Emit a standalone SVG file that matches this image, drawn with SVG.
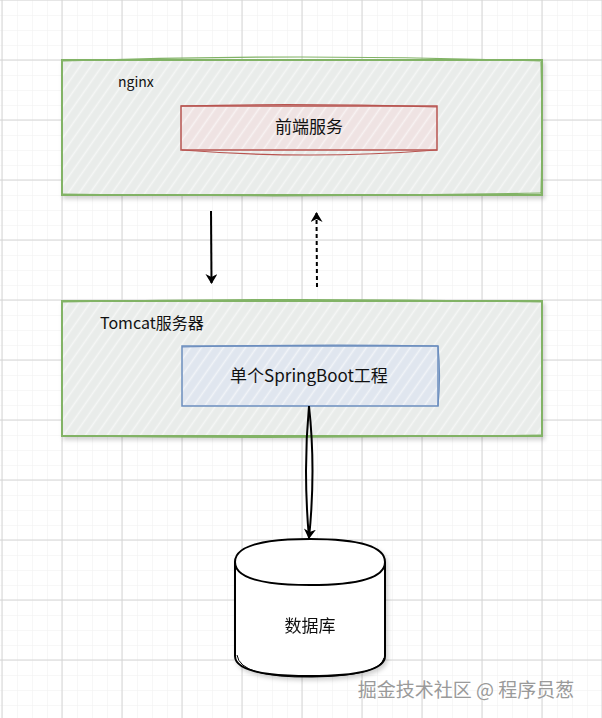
<svg xmlns="http://www.w3.org/2000/svg" width="602" height="718" viewBox="0 0 602 718">
<defs>
<pattern id="minor" width="15" height="15" patternUnits="userSpaceOnUse" x="2" y="0">
<path d="M0,0V15M0,0H15" fill="none" stroke="#f0f0f0" stroke-width="1"/>
</pattern>
<pattern id="major" width="60" height="60" patternUnits="userSpaceOnUse" x="1.5" y="-0.5">
<path d="M0.5,0V60M0,0.5H60" fill="none" stroke="#d4d4d4" stroke-width="1"/>
</pattern>
<pattern id="hatch" width="9" height="9" patternUnits="userSpaceOnUse" patternTransform="rotate(-55)">
<path d="M0,4.5H9" stroke="#ffffff" stroke-width="1.6" stroke-opacity="0.55"/>
</pattern>
<filter id="shadow" x="-10%" y="-10%" width="130%" height="140%">
<feDropShadow dx="2" dy="3" stdDeviation="2" flood-color="#000" flood-opacity="0.18"/>
</filter>
<marker id="arrow" viewBox="0 0 10 12" refX="9" refY="6" markerWidth="10" markerHeight="12" markerUnits="userSpaceOnUse" orient="auto">
<path d="M0,0L10,6L0,12L3,6Z" fill="#000"/>
</marker>
</defs>
<style>
.cont{fill:#e9ecea;stroke:#82b366;stroke-width:2}
.sk{fill:none;stroke-width:1.2}
.lbl{font-family:"Noto Sans CJK SC","Noto Sans",sans-serif;fill:#111}
.conn{fill:none;stroke:#000;stroke-width:2}
</style>
<rect width="602" height="718" fill="#fff"/>
<rect width="602" height="718" fill="url(#minor)"/>
<rect width="602" height="718" fill="url(#major)"/>

<g id="nginx">
<rect class="cont" x="62" y="60" width="480" height="135" filter="url(#shadow)"/>
<rect x="63" y="61" width="478" height="133" fill="url(#hatch)"/>
<path class="sk" stroke="#82b366" d="M63,61Q300,53 541,61M62,194Q300,198 542,193M541,62Q543,130 541,194"/>
<text class="lbl" x="118" y="87" font-size="14">nginx</text>
</g>

<g id="frontend">
<rect x="181" y="106" width="256" height="44" fill="#efe3e3" stroke="#b85450" stroke-width="1.5"/>
<rect x="182" y="107" width="254" height="42" fill="url(#hatch)"/>
<path class="sk" stroke="#b85450" d="M182,150Q310,160 437,150M181,106Q300,103 437,107"/>
<text class="lbl" x="309" y="133" font-size="17" text-anchor="middle">前端服务</text>
</g>

<g id="tomcat">
<rect class="cont" x="62" y="301" width="480" height="135" filter="url(#shadow)"/>
<rect x="63" y="302" width="478" height="133" fill="url(#hatch)"/>
<path class="sk" stroke="#82b366" d="M62,302Q300,297 542,302M62,436Q300,439 542,435"/>
<text class="lbl" x="100" y="329" font-size="16">Tomcat服务器</text>
</g>

<g id="springboot">
<rect x="182" y="346" width="256" height="60" fill="#e0e6ef" stroke="#6c8ebf" stroke-width="1.5"/>
<rect x="183" y="347" width="254" height="58" fill="url(#hatch)"/>
<path class="sk" stroke="#6c8ebf" d="M182,347Q310,344 438,346M438,346Q441,376 438,406"/>
<text class="lbl" x="309" y="382" font-size="17" text-anchor="middle">单个SpringBoot工程</text>
</g>

<g id="database" filter="url(#shadow)">
<path d="M235,562 Q235,539 310,539 Q385,539 385,562 L385,656 Q385,676 310,676 Q235,676 235,656 Z" fill="#fff" stroke="#000" stroke-width="2"/>
<path d="M235,562 Q235,585 310,585 Q385,585 385,562" fill="none" stroke="#000" stroke-width="2"/>
<path d="M237,655 Q240,678 312,677 Q380,676 384,658" fill="none" stroke="#000" stroke-width="1"/>
<text class="lbl" x="310" y="632" font-size="17" text-anchor="middle">数据库</text>
</g>

<g id="connectors">
<path class="conn" d="M211,211 L211.5,283" marker-end="url(#arrow)"/>
<path class="conn" d="M317,287 L316.5,213" stroke-dasharray="4 3" marker-end="url(#arrow)"/>
<path class="conn" stroke-width="1.5" d="M309,406 Q303,470 309,538"/>
<path class="conn" stroke-width="1.5" d="M309,406 Q316,470 309,538" marker-end="url(#arrow)"/>
</g>

<text x="466" y="697" font-family="'Noto Sans CJK SC',sans-serif" font-size="19" fill="#9a9a9a" stroke="#ffffff" stroke-width="0.6" paint-order="stroke" text-anchor="middle">掘金技术社区 @ 程序员葱</text>
</svg>
